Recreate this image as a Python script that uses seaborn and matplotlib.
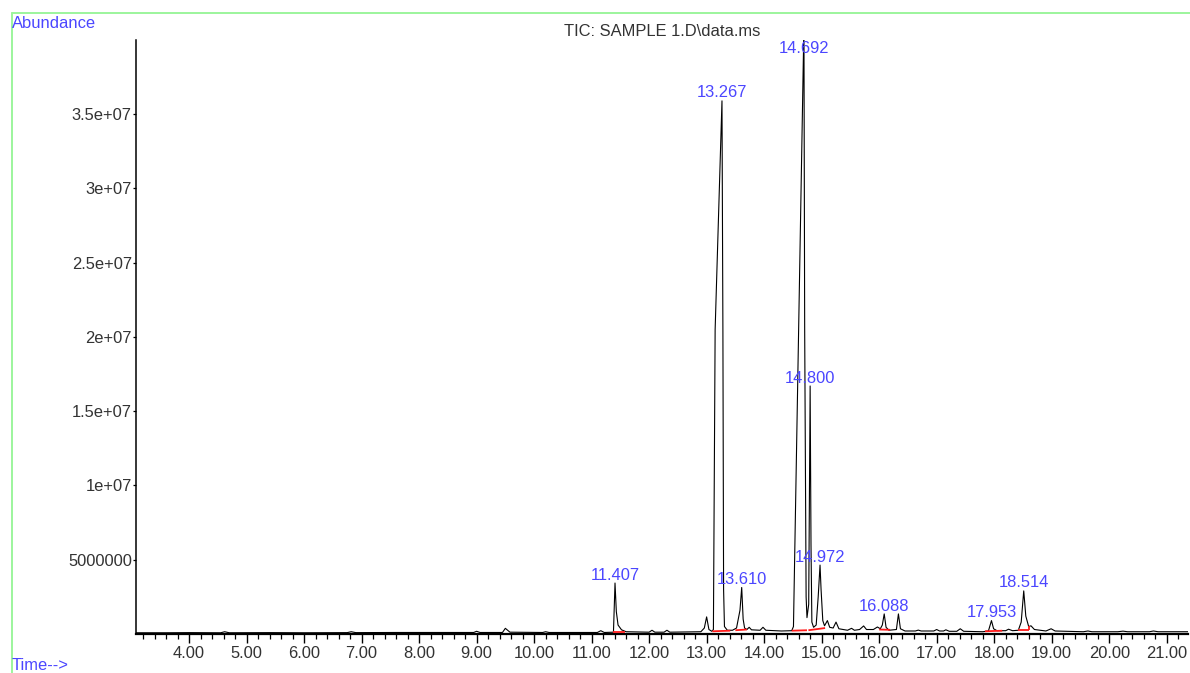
import numpy as np
import pandas as pd
import matplotlib
matplotlib.use("Agg")
import matplotlib.pyplot as plt
from matplotlib.lines import Line2D
from matplotlib.ticker import FixedLocator, MultipleLocator
import seaborn as sns

# Total ion chromatogram trace: retention time (min) and abundance (millions)
rt_min = [
    3.08, 3.60, 4.00, 4.55, 4.62, 4.70, 5.40, 6.00, 6.75, 6.82, 6.90, 7.60, 8.20,
    8.95, 9.00, 9.06, 9.45, 9.50, 9.58, 10.15, 10.20, 10.26, 11.10, 11.16, 11.22,
    11.38, 11.407, 11.43, 11.46, 11.52, 11.60, 12.00, 12.05, 12.10, 12.26, 12.31,
    12.36, 12.90, 12.96, 13.00, 13.04, 13.09, 13.118, 13.148, 13.267, 13.283,
    13.295, 13.31, 13.36, 13.45, 13.52, 13.58, 13.610, 13.635, 13.66, 13.70,
    13.74, 13.78, 13.93, 13.98, 14.03, 14.30, 14.48, 14.51, 14.60, 14.692,
    14.705, 14.73, 14.745, 14.775, 14.800, 14.815, 14.83, 14.86, 14.905, 14.94,
    14.972, 14.99, 15.02, 15.05, 15.10, 15.14, 15.20, 15.25, 15.30, 15.45,
    15.52, 15.57, 15.66, 15.73, 15.78, 15.90, 15.97, 16.02, 16.055, 16.088,
    16.12, 16.17, 16.30, 16.335, 16.37, 16.45, 16.63, 16.68, 16.73, 16.95,
    17.00, 17.05, 17.12, 17.16, 17.22, 17.35, 17.41, 17.47, 17.80, 17.90,
    17.953, 17.99, 18.05, 18.20, 18.25, 18.32, 18.42, 18.47, 18.514, 18.55,
    18.60, 18.64, 18.70, 18.90, 18.99, 19.06, 19.55, 19.63, 19.70, 20.15,
    20.24, 20.32, 20.70, 20.77, 20.85, 21.37,
]
abundance_m = [
    0.08, 0.08, 0.09, 0.08, 0.15, 0.08, 0.09, 0.08, 0.09, 0.15, 0.09, 0.10, 0.10,
    0.10, 0.18, 0.10, 0.10, 0.38, 0.12, 0.10, 0.15, 0.10, 0.10, 0.22, 0.10,
    0.12, 3.43, 1.50, 0.60, 0.28, 0.15, 0.12, 0.25, 0.12, 0.12, 0.25,
    0.12, 0.15, 0.40, 1.15, 0.30, 0.18, 0.30, 20.5, 35.9, 20.5,
    3.00, 0.50, 0.25, 0.25, 0.40, 1.60, 3.13, 1.00, 0.40, 0.30,
    0.45, 0.28, 0.25, 0.45, 0.25, 0.20, 0.22, 0.50, 20.5, 41.0,
    20.5, 2.50, 1.10, 2.00, 16.7, 6.00, 0.80, 0.45, 0.60, 2.50,
    4.64, 3.00, 0.90, 0.55, 0.90, 0.45, 0.40, 0.80, 0.35, 0.25,
    0.38, 0.25, 0.30, 0.54, 0.30, 0.30, 0.47, 0.35, 0.60, 1.35,
    0.45, 0.25, 0.30, 1.35, 0.35, 0.20, 0.20, 0.26, 0.20, 0.20,
    0.30, 0.20, 0.20, 0.28, 0.18, 0.18, 0.35, 0.18, 0.15, 0.20,
    0.90, 0.35, 0.22, 0.22, 0.32, 0.22, 0.25, 0.80, 2.90, 1.20,
    0.50, 0.55, 0.30, 0.20, 0.35, 0.20, 0.15, 0.20, 0.15, 0.15,
    0.19, 0.15, 0.15, 0.20, 0.15, 0.15,
]

# Labelled (integrated) peaks
peak_rt = [11.407, 13.267, 13.610, 14.692, 14.800, 14.972, 16.088, 17.953, 18.514]
peak_labels = ["11.407", "13.267", "13.610", "14.692", "14.800", "14.972",
               "16.088", "17.953", "18.514"]

# Integration baselines (start/end time, start/end abundance in millions)
base_t0 = [11.38, 13.10, 13.50, 14.48, 14.77, 16.00, 17.84, 18.41, 18.60]
base_t1 = [11.58, 13.41, 13.70, 14.745, 15.06, 16.19, 18.14, 18.60, 18.60]
base_a0 = [0.14, 0.18, 0.25, 0.22, 0.25, 0.30, 0.18, 0.25, 0.25]
base_a1 = [0.14, 0.22, 0.30, 0.25, 0.40, 0.28, 0.22, 0.25, 0.55]

# Axis ticks
x_major = [4, 5, 6, 7, 8, 9, 10, 11, 12, 13, 14, 15, 16, 17, 18, 19, 20, 21]
y_ticks = [5e6, 1e7, 1.5e7, 2e7, 2.5e7, 3e7, 3.5e7]
y_tick_labels = ["5000000", "1e+07", "1.5e+07", "2e+07", "2.5e+07", "3e+07", "3.5e+07"]

sns.set_theme(style="white")
plt.rcParams["font.family"] = ["Liberation Sans", "DejaVu Sans"]

FS = 11.9
LABEL_BLUE = "#4b46ff"
TICK_GREY = "#333333"

df = pd.DataFrame({"rt": rt_min, "abundance": np.array(abundance_m) * 1e6})

fig = plt.figure(figsize=(11.9, 6.73), dpi=100)
ax = fig.add_axes([0.1143, 0.0580, 0.8840, 0.8826])
ax.set_facecolor("white")

sns.lineplot(data=df, x="rt", y="abundance", ax=ax, color="black",
             linewidth=0.8, sort=False, estimator=None, zorder=3)

# integration baselines
for t0, t1, a0, a1 in zip(base_t0, base_t1, base_a0, base_a1):
    ax.plot([t0, t1], [a0 * 1e6, a1 * 1e6], color="#ff1a1a", linewidth=1.3,
            solid_capstyle="butt", zorder=4, clip_on=False)

ax.set_xlim(3.078, 21.37)
ax.set_ylim(0, 4.0e7)

# peak retention-time labels
trace_t = np.array(rt_min)
trace_a = np.array(abundance_m) * 1e6
for t, lab in zip(peak_rt, peak_labels):
    h = trace_a[np.argmin(np.abs(trace_t - t))]
    y = min(h, 3.89e7)
    ax.annotate(lab, (t, y), xytext=(0, 0.3), textcoords="offset points",
                ha="center", va="bottom", color=LABEL_BLUE, fontsize=FS,
                annotation_clip=False, zorder=5)

# spines and ticks
for side in ("top", "right"):
    ax.spines[side].set_visible(False)
ax.spines["left"].set_color("black")
ax.spines["left"].set_linewidth(1.1)
ax.spines["bottom"].set_color("black")
ax.spines["bottom"].set_linewidth(1.6)

ax.xaxis.set_major_locator(FixedLocator(x_major))
ax.xaxis.set_minor_locator(MultipleLocator(0.2))
ax.set_xticklabels([f"{v:.2f}" for v in x_major])
ax.set_yticks(y_ticks)
ax.set_yticklabels(y_tick_labels)

ax.tick_params(axis="x", which="major", direction="out", length=6.5, width=1.0,
               color="black", bottom=True, labelsize=FS, labelcolor=TICK_GREY, pad=2)
ax.tick_params(axis="x", which="minor", direction="out", length=3.5, width=0.9,
               color="black", bottom=True)
ax.tick_params(axis="y", which="major", direction="out", length=2.5, width=0.9,
               color="black", left=True, labelsize=FS, labelcolor=TICK_GREY, pad=0.5)
ax.set_xlabel("")
ax.set_ylabel("")
ax.grid(False)

# headings
fig.text(0.5563, 1 - 32 / 673, "TIC: SAMPLE 1.D\\data.ms", ha="center", va="center",
         fontsize=FS, color=TICK_GREY)
fig.text(12 / 1190, 1 - 24 / 673, "Abundance", ha="left", va="center",
         fontsize=FS, color=LABEL_BLUE)
fig.text(12 / 1190, 1 - 666 / 673, "Time-->", ha="left", va="center",
         fontsize=FS, color=LABEL_BLUE)

# frame around the plot window
frame_kw = dict(color="#9cf59c", linewidth=1.4, transform=fig.transFigure)
fig.add_artist(Line2D([11.5 / 1190, 1.0], [1 - 13 / 673, 1 - 13 / 673], **frame_kw))
fig.add_artist(Line2D([11.5 / 1190, 11.5 / 1190], [0.0, 1 - 13 / 673], **frame_kw))

fig.savefig("out.png", dpi=100, facecolor="white")
